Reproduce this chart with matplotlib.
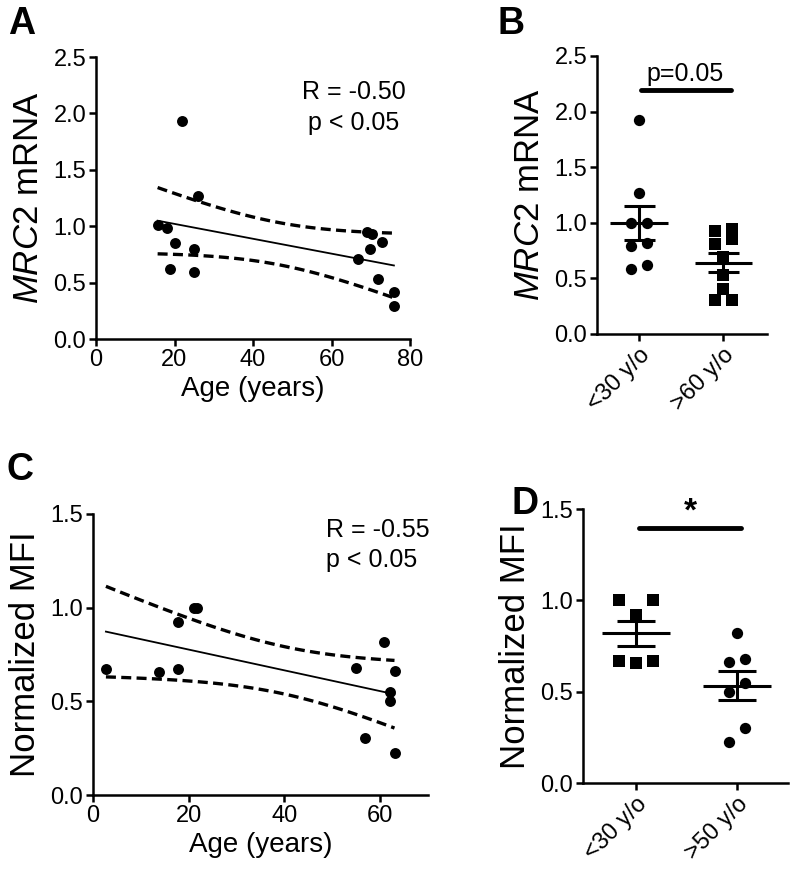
import numpy as np
import matplotlib
matplotlib.use("Agg")
import matplotlib.pyplot as plt

plt.rcParams['font.family'] = ['Liberation Sans', 'DejaVu Sans']
plt.rcParams['mathtext.fontset'] = 'custom'
plt.rcParams['mathtext.rm'] = 'Liberation Sans'
plt.rcParams['mathtext.it'] = 'Liberation Sans:italic'

# ---- data ----
# A: MRC2 mRNA vs age
age_a = [21.9, 15.7, 18.0, 25.9, 20.1, 25.0, 18.9, 25.0,
         69.0, 70.2, 69.7, 72.9, 66.8, 71.9, 75.9, 75.9]
mrc2_a = [1.93, 1.01, 0.98, 1.27, 0.85, 0.80, 0.62, 0.59,
          0.95, 0.93, 0.80, 0.86, 0.71, 0.53, 0.42, 0.29]

# B: MRC2 mRNA by age group
groups_b = ['<30 y/o', '>60 y/o']
young_b = [1.92, 1.265, 0.996, 0.996, 0.822, 0.795, 0.582, 0.621]
old_b = [0.942, 0.930, 0.852, 0.807, 0.690, 0.531, 0.408, 0.306, 0.306]

# C: normalized MFI vs age
age_c = [2.7, 13.7, 17.7, 17.7, 21.0, 21.8, 54.9, 60.9, 63.0, 62.1, 62.1, 56.9, 63.0]
mfi_c = [0.673, 0.655, 0.673, 0.922, 1.0, 1.0, 0.680, 0.818, 0.662, 0.552, 0.503, 0.303, 0.223]

# D: normalized MFI by age group
groups_d = ['<30 y/o', '>50 y/o']
young_d = [1.0, 1.0, 0.92, 0.668, 0.655, 0.668]
old_d = [0.82, 0.66, 0.677, 0.549, 0.50, 0.303, 0.223]

W, H = 795, 877
fig = plt.figure(figsize=(W / 100, H / 100), dpi=100)


def px_axes(l, t, r, b):
    return fig.add_axes([l / W, 1 - b / H, (r - l) / W, (b - t) / H])


def style(ax):
    for s in ['top', 'right']:
        ax.spines[s].set_visible(False)
    for s in ['left', 'bottom']:
        ax.spines[s].set_linewidth(1.8)
    ax.tick_params(width=1.8, length=5, labelsize=17, pad=2)


# t critical values (two sided 95%) for df used below
T95 = {11: 2.201, 14: 2.145}


def regression(ax, x, y):
    x = np.asarray(x); y = np.asarray(y)
    n = len(x)
    slope, icpt = np.polyfit(x, y, 1)
    xs = np.linspace(x.min(), x.max(), 100)
    fit = icpt + slope * xs
    resid = y - (icpt + slope * x)
    s = np.sqrt((resid ** 2).sum() / (n - 2))
    sxx = ((x - x.mean()) ** 2).sum()
    band = T95[n - 2] * s * np.sqrt(1 / n + (xs - x.mean()) ** 2 / sxx)
    ax.plot(xs, fit, color='black', lw=1.3)
    ax.plot(xs, fit + band, color='black', lw=2.4, ls=(0, (3, 1.6)))
    ax.plot(xs, fit - band, color='black', lw=2.4, ls=(0, (3, 1.6)))
    ax.scatter(x, y, s=62, color='black', zorder=3, linewidths=0)


def swarm(vals, h, step):
    vals = np.asarray(vals)
    order = np.argsort(-vals, kind='stable')
    rows = []
    for i in order:
        if rows and vals[rows[-1][0]] - vals[i] < h:
            rows[-1].append(i)
        else:
            rows.append([i])
    offs = np.zeros(len(vals))
    for row in rows:
        row = sorted(row, key=lambda i: vals[i])
        n = len(row)
        if n % 2:
            slots = [0] + [k for j in range(1, n) for k in (-j, j)]
        else:
            slots = [k for j in range(n) for k in (-(j + 0.5), j + 0.5)]
        for i, sl in zip(row, slots):
            offs[i] = sl * step
    return offs


def dotplot(ax, data, markers, step):
    for i, (vals, m) in enumerate(zip(data, markers)):
        vals = np.asarray(vals)
        offs = swarm(vals, 0.085, step)
        ax.scatter(i + offs, vals, marker=m, s=66, color='black', linewidths=0, zorder=3)
        mean = vals.mean()
        sem = vals.std(ddof=1) / np.sqrt(len(vals))
        ax.hlines(mean, i - 0.34, i + 0.34, color='black', lw=2.2, zorder=4)
        ax.hlines([mean - sem, mean + sem], i - 0.185, i + 0.185, color='black', lw=2.2, zorder=4)
        ax.vlines(i, mean - sem, mean + sem, color='black', lw=2.2, zorder=4)


# ---- A ----
axA = px_axes(96, 57, 410, 339)
style(axA)
regression(axA, age_a, mrc2_a)
axA.set_xlim(0, 80)
axA.set_ylim(0, 2.5)
axA.set_xticks([0, 20, 40, 60, 80])
axA.set_yticks(np.arange(0, 2.51, 0.5))
axA.yaxis.set_major_formatter('{x:.1f}')
axA.set_xlabel('Age (years)', fontsize=20, labelpad=4)
axA.set_ylabel(r'$\mathit{MRC2}$ mRNA', fontsize=25, labelpad=6)
axA.text(0.82, 0.82, 'R = -0.50\np < 0.05', transform=axA.transAxes, fontsize=18,
         ha='center', va='center', linespacing=1.35)

# ---- B ----
axB = px_axes(597, 56, 767, 334)
style(axB)
dotplot(axB, [young_b, old_b], ['o', 's'], 0.2)
axB.set_xlim(-0.5, 1.52)
axB.set_ylim(0, 2.5)
axB.set_yticks(np.arange(0, 2.51, 0.5))
axB.yaxis.set_major_formatter('{x:.1f}')
axB.set_xticks([0, 1])
axB.set_xticklabels(groups_b, rotation=45, ha='right', rotation_mode='anchor')
axB.set_ylabel(r'$\mathit{MRC2}$ mRNA', fontsize=25, labelpad=6)
axB.plot([0.02, 1.09], [2.19, 2.19], color='black', lw=3.5, solid_capstyle='round')
axB.text(0.55, 2.23, 'p=0.05', fontsize=18, ha='center', va='bottom')

# ---- C ----
axC = px_axes(93, 514, 428, 795)
style(axC)
regression(axC, age_c, mfi_c)
axC.set_xlim(0, 70)
axC.set_ylim(0, 1.5)
axC.set_xticks([0, 20, 40, 60])
axC.set_yticks(np.arange(0, 1.51, 0.5))
axC.yaxis.set_major_formatter('{x:.1f}')
axC.set_xlabel('Age (years)', fontsize=20, labelpad=4)
axC.set_ylabel('Normalized MFI', fontsize=25, labelpad=6)
axC.text(0.695, 0.89, 'R = -0.55\np < 0.05', transform=axC.transAxes, fontsize=18,
         ha='left', va='center', linespacing=1.35)

# ---- D ----
axD = px_axes(583, 509, 788, 783)
style(axD)
dotplot(axD, [young_d, old_d], ['s', 'o'], 0.165)
axD.set_xlim(-0.525, 1.505)
axD.set_ylim(0, 1.5)
axD.set_yticks(np.arange(0, 1.51, 0.5))
axD.yaxis.set_major_formatter('{x:.1f}')
axD.set_xticks([0, 1])
axD.set_xticklabels(groups_d, rotation=45, ha='right', rotation_mode='anchor')
axD.set_ylabel('Normalized MFI', fontsize=25, labelpad=6)
axD.plot([0.03, 1.04], [1.394, 1.394], color='black', lw=3.5, solid_capstyle='round')
axD.text(0.535, 1.40, '*', fontsize=24, fontweight='bold', ha='center', va='bottom')

# panel letters
for letter, x, y in [('A', 8, 6), ('B', 498, 6), ('C', 6, 452), ('D', 512, 486)]:
    fig.text(x / W, 1 - y / H, letter, fontsize=27, fontweight='bold', ha='left', va='top')

fig.savefig('out.png', dpi=100, facecolor='white')
